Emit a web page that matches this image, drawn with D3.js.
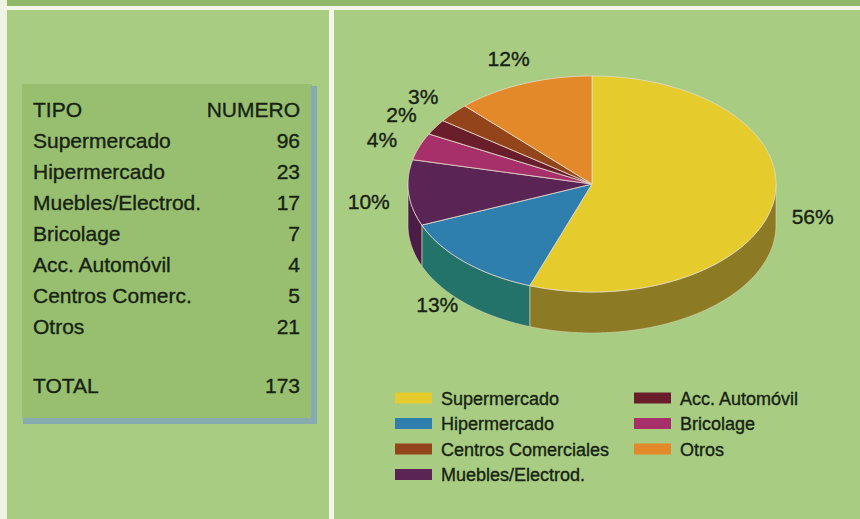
<!DOCTYPE html>
<meta charset="utf-8">
<script src="https://d3js.org/d3.v7.min.js"></script>
<style>
  body { margin: 0; background: #a8cc82; }
  text { font-family: "Liberation Sans", Arial, Helvetica, sans-serif; fill: #172212; stroke: #172212; stroke-width: 0.35; }
</style>
<div id="chart"></div>
<script>

// data
var tipos = ["Supermercado", "Hipermercado", "Muebles/Electrod.", "Bricolage", "Acc. Automóvil", "Centros Comerc.", "Otros"];
var numeros = [96, 23, 17, 7, 4, 5, 21];
var total = 173;
var porcentajes = [56, 13, 10, 4, 2, 3, 12];   // as printed on the chart
var legendNames = ["Supermercado", "Hipermercado", "Muebles/Electrod.", "Bricolage", "Acc. Automóvil", "Centros Comerciales", "Otros"];
var legendOrder = [0, 1, 5, 2, 4, 3, 6];

var topColors = ["#e6cb2c", "#2f7fae", "#5a2454", "#a8306a", "#6a1e2c", "#94441a", "#e3892a"];
var sideColors = ["#8d7a24", "#24736a", "#4a1c46", "#7e2450", "#501620", "#6e3214", "#a8621c"];

var W = 860, H = 519;

var svg = d3.select("#chart")
  .append("svg")
    .attr("width", W)
    .attr("height", H);

// background panels
svg.append("rect").attr("width", W).attr("height", H).attr("fill", "#a8cc82");
svg.append("rect").attr("width", W).attr("height", 6).attr("fill", "#8fb868");
svg.append("rect").attr("y", 6).attr("width", W).attr("height", 4).attr("fill", "#f3f7ea");
svg.append("rect").attr("width", 7).attr("height", H).attr("fill", "#eef3e4");
svg.append("rect").attr("x", 329).attr("y", 8).attr("width", 5).attr("height", H).attr("fill", "#f3f7ea");

// ---- table ----
var tbl = svg.append("g");
tbl.append("rect").attr("x", 22).attr("y", 84).attr("width", 290).attr("height", 334).attr("fill", "#98bf70");
tbl.append("rect").attr("x", 311).attr("y", 86).attr("width", 6).attr("height", 338).attr("fill", "#88abb0");
tbl.append("rect").attr("x", 23).attr("y", 418).attr("width", 294).attr("height", 6).attr("fill", "#88abb0");

var rowY = d3.scaleLinear().domain([0, 1]).range([117, 148]);
var tx0 = 33, tx1 = 300;

function tableRow(label, value, y) {
  tbl.append("text").attr("x", tx0).attr("y", y).attr("font-size", 21).text(label);
  tbl.append("text").attr("x", tx1).attr("y", y).attr("font-size", 21)
    .attr("text-anchor", "end").text(value);
}
tableRow("TIPO", "NUMERO", rowY(0));
tipos.forEach(function(t, i) { tableRow(t, numeros[i], rowY(i + 1)); });
tableRow("TOTAL", total, rowY(tipos.length + 2) - 3);

// ---- 3D pie ----
var cx = 592, cy = 184, rx = 184, ry = 108, depth = 41;

var pie = d3.pie().sort(null).value(function(d) { return d; });
var arcs = pie(numeros);

function pt(a, dy) {
  return [cx + rx * Math.sin(a), cy - ry * Math.cos(a) + (dy || 0)];
}
function arcPoints(a0, a1, dy) {
  var n = Math.max(2, Math.ceil((a1 - a0) / 0.01));
  var pts = [];
  for (var k = 0; k <= n; k++) pts.push(pt(a0 + (a1 - a0) * k / n, dy));
  return pts;
}
var line = d3.line();

var gPie = svg.append("g");

// outer walls (front half only)
arcs.forEach(function(d, i) {
  var a0 = Math.max(d.startAngle, Math.PI / 2);
  var a1 = Math.min(d.endAngle, 3 * Math.PI / 2);
  if (a1 <= a0) return;
  var pts = arcPoints(a0, a1, 0).concat(arcPoints(a0, a1, depth).reverse());
  gPie.append("path")
    .attr("d", line(pts) + "Z")
    .attr("fill", sideColors[i])
    .attr("stroke", "#d8d6b8")
    .attr("stroke-width", 0.6);
});

// top faces
arcs.forEach(function(d, i) {
  var pts = [[cx, cy]].concat(arcPoints(d.startAngle, d.endAngle, 0));
  gPie.append("path")
    .attr("d", line(pts) + "Z")
    .attr("fill", topColors[i])
    .attr("stroke", "#e6dccb")
    .attr("stroke-width", 0.8)
    .attr("stroke-linejoin", "round");
});

// percentage labels
var lrx = 224, lry = 140, lcy = 189;
arcs.forEach(function(d, i) {
  var a = (d.startAngle + d.endAngle) / 2;
  var c = Math.cos(a);
  var x = cx + lrx * Math.sin(a);
  var y = lcy - lry * c + (c < 0 ? depth * 0.5 * -c : 0);
  gPie.append("text")
    .attr("x", x)
    .attr("y", y + 7)
    .attr("font-size", 21)
    .attr("text-anchor", "middle")
    .text(porcentajes[i] + "%");
});

// ---- legend ----
var lg = svg.append("g");
var colX = [395, 634];
var legY = d3.scaleLinear().domain([0, 1]).range([398, 423.5]);
legendOrder.forEach(function(idx, k) {
  var col = k < 4 ? 0 : 1, row = k < 4 ? k : k - 4;
  var y = legY(row);
  lg.append("rect")
    .attr("x", colX[col]).attr("y", y - 5.5)
    .attr("width", 37).attr("height", 11)
    .attr("fill", topColors[idx]);
  lg.append("text")
    .attr("x", colX[col] + 46).attr("y", y + 6.5)
    .attr("font-size", 18)
    .text(legendNames[idx]);
});

</script>
